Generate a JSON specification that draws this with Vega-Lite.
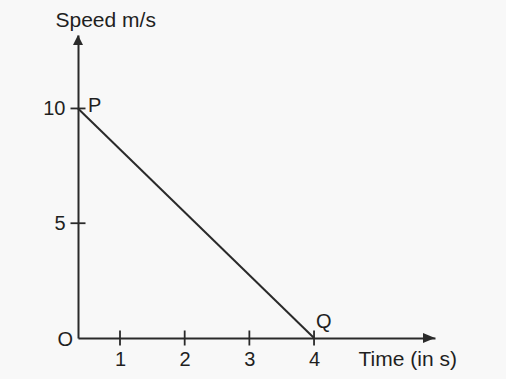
{
  "$schema": "https://vega.github.io/schema/vega-lite/v6.json",
  "width": 357,
  "height": 303,
  "autosize": "none",
  "padding": {"left": 78, "top": 35, "right": 71, "bottom": 41},
  "background": "#f8f8f8",
  "config": {
    "view": {"stroke": null},
    "font": "Liberation Sans",
    "axis": {
      "grid": false,
      "ticks": false,
      "tickSize": 0,
      "domainColor": "#2a2a2a",
      "domainWidth": 2,
      "labelFont": "Liberation Sans",
      "labelFontSize": 20,
      "labelColor": "#1f1f1f",
      "titleFont": "Liberation Sans",
      "titleFontSize": 21,
      "titleFontWeight": "normal",
      "titleColor": "#1f1f1f"
    }
  },
  "datasets": {
    "motion": [
      {"time": 0, "speed": 10, "point": "P"},
      {"time": 4, "speed": 0, "point": "Q"}
    ],
    "xticks": [{"time": 1}, {"time": 2}, {"time": 3}, {"time": 4}],
    "yticks": [{"speed": 5}, {"speed": 10}],
    "single": [{}]
  },
  "layer": [
    {
      "data": {"name": "motion"},
      "mark": {"type": "line", "color": "#2a2a2a", "strokeWidth": 2},
      "encoding": {
        "x": {
          "field": "time",
          "type": "quantitative",
          "scale": {"domain": [0, 1, 5.87], "range": [0, 42, 357], "nice": false, "zero": false},
          "axis": {
            "title": "Time (in s)",
            "values": [1, 2, 3, 4],
            "format": "d",
            "labelPadding": 11,
            "labelFlush": false,
            "titleX": 280,
            "titleY": 27,
            "titleAlign": "left",
            "titleBaseline": "alphabetic",
            "titleAnchor": null
          }
        },
        "y": {
          "field": "speed",
          "type": "quantitative",
          "scale": {"domain": [0, 13.2], "nice": false, "zero": false},
          "axis": {
            "title": "Speed m/s",
            "values": [5, 10],
            "format": "d",
            "labelPadding": 13,
            "labelFlush": false,
            "titleAngle": 0,
            "titleX": -23,
            "titleY": -9,
            "titleAlign": "left",
            "titleBaseline": "alphabetic",
            "titleAnchor": null
          }
        }
      }
    },
    {
      "data": {"name": "xticks"},
      "mark": {"type": "tick", "orient": "vertical", "size": 15, "thickness": 1.8, "color": "#2a2a2a", "opacity": 1},
      "encoding": {
        "x": {"field": "time", "type": "quantitative"},
        "y": {"datum": 0, "type": "quantitative"}
      }
    },
    {
      "data": {"name": "yticks"},
      "mark": {"type": "tick", "orient": "horizontal", "size": 15, "thickness": 1.8, "color": "#2a2a2a", "opacity": 1},
      "encoding": {
        "x": {"datum": 0, "type": "quantitative"},
        "y": {"field": "speed", "type": "quantitative"}
      }
    },
    {
      "data": {"name": "single"},
      "mark": {"type": "point", "shape": "M0,0L-1.6,-0.67L-1.6,0.67Z", "size": 225, "filled": true, "opacity": 1, "color": "#2a2a2a", "strokeWidth": 0},
      "encoding": {
        "x": {"datum": 5.87, "type": "quantitative"},
        "y": {"datum": 0, "type": "quantitative"}
      }
    },
    {
      "data": {"name": "single"},
      "mark": {"type": "point", "shape": "M0,0L0.8,1.6L-0.8,1.6Z", "size": 156, "filled": true, "opacity": 1, "color": "#2a2a2a", "strokeWidth": 0},
      "encoding": {
        "x": {"datum": 0, "type": "quantitative"},
        "y": {"datum": 13.2, "type": "quantitative"}
      }
    },
    {
      "data": {"name": "motion"},
      "transform": [{"filter": "datum.point === 'P'"}],
      "mark": {"type": "text", "align": "left", "baseline": "alphabetic", "dx": 10, "dy": 4, "fontSize": 20, "color": "#1f1f1f"},
      "encoding": {
        "x": {"field": "time", "type": "quantitative"},
        "y": {"field": "speed", "type": "quantitative"},
        "text": {"field": "point"}
      }
    },
    {
      "data": {"name": "motion"},
      "transform": [{"filter": "datum.point === 'Q'"}],
      "mark": {"type": "text", "align": "left", "baseline": "alphabetic", "dx": 2, "dy": -10, "fontSize": 20, "color": "#1f1f1f"},
      "encoding": {
        "x": {"field": "time", "type": "quantitative"},
        "y": {"field": "speed", "type": "quantitative"},
        "text": {"field": "point"}
      }
    },
    {
      "data": {"name": "single"},
      "mark": {"type": "text", "text": "O", "align": "right", "baseline": "middle", "dx": -5, "dy": 2, "fontSize": 20, "color": "#1f1f1f"},
      "encoding": {
        "x": {"datum": 0, "type": "quantitative"},
        "y": {"datum": 0, "type": "quantitative"}
      }
    }
  ]
}
